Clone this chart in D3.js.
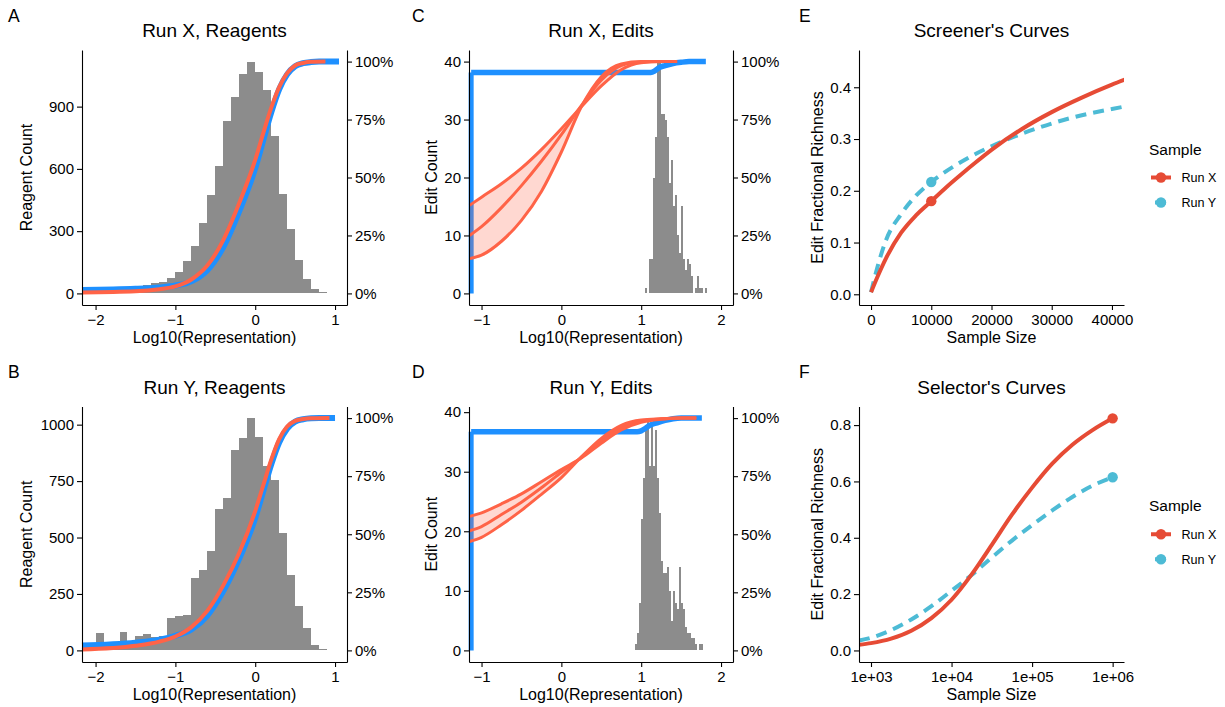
<!DOCTYPE html>
<html>
<head>
<meta charset="utf-8">
<script src="https://cdnjs.cloudflare.com/ajax/libs/d3/7.8.5/d3.min.js"></script>
<style>
  body { margin: 0; background: #fff; }
  text { font-family: 'Liberation Sans', Arial, Helvetica, sans-serif; fill: #000; }
  .axis path, .axis line { stroke: #000; stroke-width: 1.1px; }
  .axis text { font-size: 15px; fill: #000; }
</style>
</head>
<body>
<div id="fig"></div>
<script>
// ---- data ----

// reagent histograms (bins of 0.1 starting at -2.1)
const reagentBinStart = -2.1
const reagentBinWidth = 0.1
const runXReagentCounts = [6, 10, 14, 18, 22, 30, 37, 42, 48, 53, 72, 104, 157, 229, 338, 474, 613, 829, 946, 1055, 1117, 1069, 978, 757, 477, 309, 162, 69, 21, 5, 2]
const runYReagentCounts = [15, 75, 22, 25, 80, 35, 65, 72, 60, 62, 143, 151, 157, 319, 354, 441, 625, 673, 889, 942, 1029, 945, 816, 753, 518, 335, 198, 100, 25, 8, 2]

// cumulative curves on the right (%) axis, [log10 representation, percent]
const runXReagentRed = [[-2.17, 0.4], [-1.5, 0.9], [-1.2, 1.8], [-1.0, 3], [-0.8, 6], [-0.6, 12], [-0.4, 23], [-0.2, 39], [0, 57.6], [0.1, 69], [0.2, 80], [0.3, 89], [0.4, 95], [0.5, 98.3], [0.6, 99.4], [0.7, 99.9], [0.88, 100]]
const runXReagentBlue = [[-2.17, 1.5], [-1.5, 2.0], [-1.2, 2.6], [-1.0, 3.4], [-0.8, 5.2], [-0.6, 10], [-0.4, 20], [-0.2, 35.5], [0, 54], [0.1, 66], [0.2, 78], [0.3, 88], [0.4, 94.5], [0.5, 98], [0.6, 99.3], [0.7, 99.8], [0.8, 100], [1.05, 100]]
const runYReagentRed = [[-2.17, 0.4], [-1.5, 2.0], [-1.2, 3.8], [-1.0, 6.0], [-0.8, 10], [-0.6, 17], [-0.4, 28], [-0.2, 42], [0, 60], [0.1, 71], [0.2, 82], [0.3, 91], [0.4, 96.4], [0.5, 98.8], [0.6, 99.6], [0.7, 99.9], [0.93, 100]]
const runYReagentBlue = [[-2.17, 2.1], [-1.5, 3.3], [-1.2, 4.6], [-1.0, 6.3], [-0.8, 9], [-0.6, 15], [-0.4, 25.5], [-0.2, 39.5], [0, 57], [0.1, 68.5], [0.2, 80], [0.3, 89.5], [0.4, 95.5], [0.5, 98.5], [0.6, 99.5], [0.7, 99.9], [0.8, 100], [1.0, 100]]

// edit histograms (bins of 0.025)
const editBinWidth = 0.025
const runXEditBinStart = 1.05
const runXEditCounts = [1, 0, 6, 6, 20, 27, 40, 40, 31, 31, 30, 27, 19, 23, 15, 17, 10, 7, 15, 6, 4, 6, 5, 3, 0, 1, 3, 1, 1, 0, 1]
const runYEditBinStart = 0.925
const runYEditCounts = [1, 3, 8, 22, 29, 37, 39, 31, 38, 31, 37, 29, 23, 15, 13, 13, 14, 10, 5, 10, 8, 7, 14, 8, 7, 4, 3, 3, 2, 2, 1, 0, 1, 1]

// edit curves (%): three red curves with ribbon, one blue step-like curve
const runXEditCurveX = [-1.15, -1, -0.75, -0.5, -0.25, 0, 0.25, 0.5, 0.75, 1.0, 1.25, 1.45]
const runXEditUpper = [38, 41.5, 47.3, 54, 62, 71, 80.5, 89.5, 96.5, 99.5, 100, 100]
const runXEditMid = [25, 28.8, 37, 46.5, 57, 68.5, 81, 92, 98.3, 99.8, 100, 100]
const runXEditLower = [15, 16.5, 22.5, 31.5, 44, 61, 80.5, 93.5, 99, 100, 100, 100]
const runXEditBlue = [[-1.13, 95.3], [1.12, 95.3], [1.17, 96], [1.22, 97.3], [1.3, 98.3], [1.4, 99.2], [1.5, 99.7], [1.6, 100], [1.81, 100]]

const runYEditCurveX = [-1.15, -1, -0.75, -0.5, -0.25, 0, 0.25, 0.5, 0.75, 1.0, 1.25, 1.5, 1.69]
const runYEditUpper = [57.7, 59.2, 63.1, 67.4, 72.6, 77.9, 82.8, 89.2, 94.9, 98.2, 99.5, 100, 100]
const runYEditMid = [51.5, 53.3, 58.5, 63.8, 70, 76.7, 83.1, 90.3, 95.9, 98.7, 99.7, 100, 100]
const runYEditLower = [46.9, 48.7, 54.1, 60.3, 67.2, 74.4, 83.3, 91.3, 96.9, 99.2, 99.7, 100, 100]
const runYEditBlue = [[-1.13, 94.1], [0.95, 94.1], [1.0, 94.5], [1.05, 95.5], [1.1, 96.8], [1.2, 98], [1.3, 99], [1.4, 99.7], [1.5, 100], [1.76, 100]]

// screener's curves
const screenSize = [0, 1000, 2500, 5000, 7500, 10000, 12500, 15000, 17500, 20000, 25000, 30000, 35000, 40000, 42200]
const screenRunX = [0.004, 0.032, 0.070, 0.119, 0.153, 0.180, 0.207, 0.232, 0.256, 0.279, 0.319, 0.352, 0.380, 0.405, 0.415]
const screenRunY = [0.004, 0.050, 0.105, 0.155, 0.191, 0.217, 0.238, 0.256, 0.272, 0.286, 0.310, 0.330, 0.346, 0.358, 0.363]
const screenPoint = { size: 10000, runX: 0.18, runY: 0.217 }

// selector's curves
const selectSize = [708, 1000, 1778, 3162, 5623, 10000, 17783, 31623, 56234, 100000, 177828, 316228, 562341, 1000000]
const selectRunX = [0.020, 0.026, 0.042, 0.070, 0.115, 0.180, 0.270, 0.375, 0.482, 0.578, 0.663, 0.730, 0.782, 0.824]
const selectRunY = [0.035, 0.045, 0.072, 0.110, 0.157, 0.212, 0.268, 0.330, 0.390, 0.445, 0.497, 0.545, 0.585, 0.615]
const selectPoint = { size: 1000000, runX: 0.824, runY: 0.615 }

const sampleNames = ['Run X', 'Run Y']
const pctTicks = [0, 25, 50, 75, 100]

// ---- layout ----
const rowTop = [50, 406.5]
const rowBottom = [305, 662]
const colLeft = [82, 469, 859]
const colRight = [347, 733, 1124]

const grey = '#8C8C8C'
const tomato = '#FF6347'
const dodger = '#1E90FF'
const npgRed = '#E64B35'
const npgBlue = '#4DBBD5'

var svg = d3.select('#fig')
  .append('svg')
  .attr('width', 1225)
  .attr('height', 707)

function frame(col, row, letter, letterX, title, xlab, ylab, ylabX) {
  var l = colLeft[col], r = colRight[col], t = rowTop[row], b = rowBottom[row]
  svg.append('text')
    .attr('x', letterX).attr('y', row === 0 ? 21.7 : 378.3)
    .attr('font-size', 17.5)
    .text(letter)
  svg.append('text')
    .attr('x', (l + r) / 2).attr('y', t - 13)
    .attr('text-anchor', 'middle')
    .attr('font-size', 19)
    .text(title)
  svg.append('text')
    .attr('x', (l + r) / 2).attr('y', b + 38)
    .attr('text-anchor', 'middle')
    .attr('font-size', 16)
    .text(xlab)
  svg.append('text')
    .attr('transform', 'translate(' + ylabX + ',' + (t + b) / 2 + ') rotate(-90)')
    .attr('text-anchor', 'middle')
    .attr('font-size', 16)
    .text(ylab)
  return { l: l, r: r, t: t, b: b }
}

function bottomAxis(box, x, ticks, fmt) {
  svg.append('g')
    .attr('class', 'axis')
    .attr('transform', 'translate(0,' + box.b + ')')
    .call(d3.axisBottom(x).tickValues(ticks).tickFormat(fmt).tickSize(5).tickSizeOuter(0).tickPadding(4))
}

function leftAxis(box, y, ticks, fmt) {
  svg.append('g')
    .attr('class', 'axis')
    .attr('transform', 'translate(' + box.l + ',0)')
    .call(d3.axisLeft(y).tickValues(ticks).tickFormat(fmt).tickSize(5).tickSizeOuter(0).tickPadding(3))
}

function rightAxis(box, y) {
  svg.append('g')
    .attr('class', 'axis')
    .attr('transform', 'translate(' + box.r + ',0)')
    .call(d3.axisRight(y).tickValues(pctTicks).tickFormat(d => d + '%').tickSize(5).tickSizeOuter(0).tickPadding(3))
}

function drawHist(x, y, start, width, counts) {
  svg.append('g')
    .selectAll('rect')
    .data(counts)
    .enter()
    .append('rect')
    .attr('x', (d, i) => x(start + i * width))
    .attr('width', (d, i) => x(start + (i + 1) * width) - x(start + i * width))
    .attr('y', d => y(d))
    .attr('height', d => y(0) - y(d))
    .attr('fill', grey)
    .attr('shape-rendering', 'crispEdges')
}

function drawCurve(x, y, pts, color, w) {
  var line = d3.line()
    .x(d => x(d[0]))
    .y(d => y(d[1]))
    .curve(d3.curveMonotoneX)
  svg.append('path')
    .datum(pts)
    .attr('d', line)
    .attr('fill', 'none')
    .attr('stroke', color)
    .attr('stroke-width', w)
}

// ---- A / B: reagent panels ----
function reagentPanel(row, letter, title, counts, red, blue, yTicks) {
  var box = frame(0, row, letter, 8, title, 'Log10(Representation)', 'Reagent Count', 32)
  var maxCount = d3.max(counts)
  var x = d3.scaleLinear().domain([-2.17, 1.15]).range([box.l, box.r])
  var y = d3.scaleLinear().domain([-0.05 * maxCount, 1.05 * maxCount]).range([box.b, box.t])
  var yPct = d3.scaleLinear().domain([-5, 105]).range([box.b, box.t])

  drawHist(x, y, reagentBinStart, reagentBinWidth, counts)
  drawCurve(x, yPct, blue, dodger, 6)
  drawCurve(x, yPct, red, tomato, 4)

  bottomAxis(box, x, [-2, -1, 0, 1], d3.format('d'))
  leftAxis(box, y, yTicks, d3.format('d'))
  rightAxis(box, yPct)
}

reagentPanel(0, 'A', 'Run X, Reagents', runXReagentCounts, runXReagentRed, runXReagentBlue, [0, 300, 600, 900])
reagentPanel(1, 'B', 'Run Y, Reagents', runYReagentCounts, runYReagentRed, runYReagentBlue, [0, 250, 500, 750, 1000])

// ---- C / D: edit panels ----
function editPanel(row, letter, title, start, counts, cx, upper, mid, lower, blue) {
  var box = frame(1, row, letter, 412, title, 'Log10(Representation)', 'Edit Count', 436.5)
  var maxCount = d3.max(counts)
  var x = d3.scaleLinear().domain([-1.157, 2.15]).range([box.l, box.r])
  var y = d3.scaleLinear().domain([-0.05 * maxCount, 1.05 * maxCount]).range([box.b, box.t])
  var yPct = d3.scaleLinear().domain([-5, 105]).range([box.b, box.t])

  drawHist(x, y, start, editBinWidth, counts)

  // blue: vertical rise at the lowest value, then the plateau
  svg.append('line')
    .attr('x1', x(blue[0][0])).attr('x2', x(blue[0][0]))
    .attr('y1', yPct(0)).attr('y2', yPct(blue[0][1]))
    .attr('stroke', dodger)
    .attr('stroke-width', 5)
  drawCurve(x, yPct, blue, dodger, 5.5)

  var area = d3.area()
    .x((d, i) => x(cx[i]))
    .y0((d, i) => yPct(lower[i]))
    .y1((d, i) => yPct(upper[i]))
    .curve(d3.curveMonotoneX)
  svg.append('path')
    .datum(cx)
    .attr('d', area)
    .attr('fill', tomato)
    .attr('fill-opacity', 0.25)

  ;[upper, mid, lower].forEach(function(vals) {
    drawCurve(x, yPct, cx.map((v, i) => [v, vals[i]]), tomato, 3)
  })

  bottomAxis(box, x, [-1, 0, 1, 2], d3.format('d'))
  leftAxis(box, y, [0, 10, 20, 30, 40], d3.format('d'))
  rightAxis(box, yPct)
}

editPanel(0, 'C', 'Run X, Edits', runXEditBinStart, runXEditCounts, runXEditCurveX, runXEditUpper, runXEditMid, runXEditLower, runXEditBlue)
editPanel(1, 'D', 'Run Y, Edits', runYEditBinStart, runYEditCounts, runYEditCurveX, runYEditUpper, runYEditMid, runYEditLower, runYEditBlue)

// ---- E / F: richness curves ----
function richnessPanel(row, letter, title, x, xTicks, xFmt, yDomain, yTicks, sizes, runX, runY, pt) {
  var box = frame(2, row, letter, 799, title, 'Sample Size', 'Edit Fractional Richness', 823)
  var y = d3.scaleLinear().domain(yDomain).range([box.b, box.t])
  var clipId = 'clip' + letter
  svg.append('clipPath').attr('id', clipId)
    .append('rect')
    .attr('x', box.l).attr('y', box.t - 10)
    .attr('width', box.r - box.l).attr('height', box.b - box.t + 10)

  var line = d3.line()
    .x(d => x(d[0]))
    .y(d => y(d[1]))
    .curve(d3.curveMonotoneX)
  var g = svg.append('g').attr('clip-path', 'url(#' + clipId + ')')
  g.append('path')
    .datum(sizes.map((s, i) => [s, runY[i]]))
    .attr('d', line)
    .attr('fill', 'none')
    .attr('stroke', npgBlue)
    .attr('stroke-width', 4)
    .attr('stroke-dasharray', '11,7')
  g.append('path')
    .datum(sizes.map((s, i) => [s, runX[i]]))
    .attr('d', line)
    .attr('fill', 'none')
    .attr('stroke', npgRed)
    .attr('stroke-width', 4)
  svg.append('circle')
    .attr('cx', x(pt.size)).attr('cy', y(pt.runY)).attr('r', 5.2)
    .attr('fill', npgBlue)
  svg.append('circle')
    .attr('cx', x(pt.size)).attr('cy', y(pt.runX)).attr('r', 5.2)
    .attr('fill', npgRed)

  bottomAxis(box, x, xTicks, xFmt)
  leftAxis(box, y, yTicks, d3.format('.1f'))

  // legend
  var ly = (box.t + box.b) / 2
  svg.append('text')
    .attr('x', 1149).attr('y', ly - 23)
    .attr('font-size', 15.5)
    .text('Sample')
  sampleNames.forEach(function(name, i) {
    var ky = ly + i * 25
    var color = i === 0 ? npgRed : npgBlue
    svg.append('line')
      .attr('x1', 1151).attr('x2', 1171)
      .attr('y1', ky).attr('y2', ky)
      .attr('stroke', color)
      .attr('stroke-width', 4)
      .attr('stroke-dasharray', i === 0 ? null : '11,7')
      .attr('stroke-dashoffset', i === 0 ? null : -4)
    svg.append('circle')
      .attr('cx', 1161).attr('cy', ky).attr('r', 5.2)
      .attr('fill', color)
    svg.append('text')
      .attr('x', 1181.5).attr('y', ky)
      .attr('dy', '0.35em')
      .attr('font-size', 12.6)
      .text(name)
  })
}

var xScreen = d3.scaleLinear().domain([-2000, 42000]).range([colLeft[2], colRight[2]])
richnessPanel(0, 'E', "Screener's Curves", xScreen, [0, 10000, 20000, 30000, 40000], d3.format('d'),
  [-0.0207, 0.472], [0, 0.1, 0.2, 0.3, 0.4], screenSize, screenRunX, screenRunY, screenPoint)

var xSelect = d3.scaleLog().domain([Math.pow(10, 2.851), Math.pow(10, 6.141)]).range([colLeft[2], colRight[2]])
richnessPanel(1, 'F', "Selector's Curves", xSelect, [1e3, 1e4, 1e5, 1e6], d => '1e+0' + Math.round(Math.log10(d)),
  [-0.041, 0.866], [0, 0.2, 0.4, 0.6, 0.8], selectSize, selectRunX, selectRunY, selectPoint)
</script>
</body>
</html>
